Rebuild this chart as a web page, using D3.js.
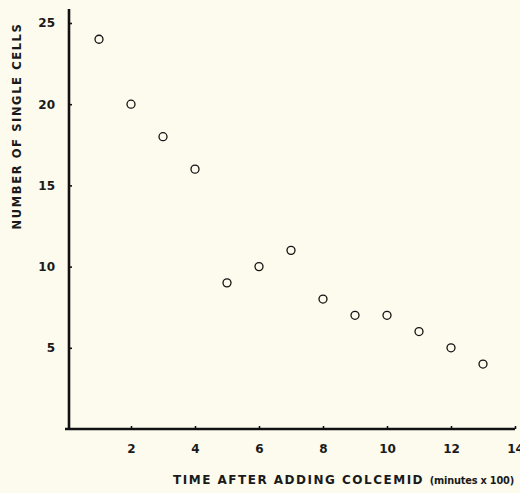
<!DOCTYPE html>
<html><head><meta charset="utf-8">
<script src="https://cdn.jsdelivr.net/npm/d3@7"></script>
<style>
html,body{margin:0;padding:0;background:#fcfbee;}
svg{display:block;}
text{font-family:"DejaVu Sans",sans-serif;fill:#1a1a1a;}
</style></head>
<body>
<svg id="c" width="520" height="493"></svg>
<script>
const times = [1,2,3,4,5,6,7,8,9,10,11,12,13];
const cells = [24,20,18,16,9,10,11,8,7,7,6,5,4];
const xTicks = [2,4,6,8,10,12,14];
const xTickLabels = ["2","4","6","8","10","12","14"];
const yTicks = [5,10,15,20,25];
const yTickLabels = ["5","10","15","20","25"];

const svg = d3.select("#c");
svg.append("rect").attr("width",520).attr("height",493).attr("fill","#fcfbee");

const x = d3.scaleLinear().domain([0,14]).range([67,515]);
const y = d3.scaleLinear().domain([0,25]).range([429,23]);

// axes lines
svg.append("line").attr("x1",x(0)+2).attr("x2",x(0)+2).attr("y1",9).attr("y2",y(0))
  .attr("stroke","#111").attr("stroke-width",2.6);
svg.append("line").attr("x1",65).attr("x2",515).attr("y1",y(0)).attr("y2",y(0))
  .attr("stroke","#111").attr("stroke-width",2.6);

// y axis
const yAx = d3.axisLeft(y).tickValues(yTicks).tickFormat((d,i)=>yTickLabels[i]).tickSize(-3).tickPadding(14);
const gy = svg.append("g").attr("transform",`translate(${x(0)+2},0)`).call(yAx);
gy.select(".domain").remove();
gy.selectAll(".tick line").attr("stroke","#111").attr("stroke-width",1.6);
gy.selectAll(".tick text").attr("font-size",12).attr("font-weight","bold").attr("fill","#1a1a1a")
  .attr("font-family","DejaVu Sans, sans-serif");

// x axis
const xAx = d3.axisBottom(x).tickValues(xTicks).tickFormat((d,i)=>xTickLabels[i]).tickSize(-3).tickPadding(15);
const gx = svg.append("g").attr("transform",`translate(0,${y(0)})`).call(xAx);
gx.select(".domain").remove();
gx.selectAll(".tick line").attr("stroke","#111").attr("stroke-width",1.6);
gx.selectAll(".tick text").attr("font-size",12).attr("font-weight","bold").attr("fill","#1a1a1a")
  .attr("font-family","DejaVu Sans, sans-serif");

// points
svg.append("g").selectAll("circle").data(times).join("circle")
  .attr("cx",(d)=>x(d)).attr("cy",(d,i)=>y(cells[i])).attr("r",4)
  .attr("fill","none").attr("stroke","#111").attr("stroke-width",1.3);

// y title
svg.append("text").attr("transform","translate(21,126) rotate(-90)")
  .attr("text-anchor","middle").attr("font-size",11.5).attr("font-weight","bold")
  .attr("letter-spacing",1.6).text("NUMBER OF SINGLE CELLS");

// x title
const xt = svg.append("text").attr("x",514).attr("y",484).attr("text-anchor","end")
  .attr("font-weight","bold");
xt.append("tspan").attr("font-size",12).attr("letter-spacing",1.5).text("TIME AFTER ADDING COLCEMID ");
xt.append("tspan").attr("font-size",9.8).attr("letter-spacing",-0.2).text("(minutes x 100)");
</script>
</body></html>
